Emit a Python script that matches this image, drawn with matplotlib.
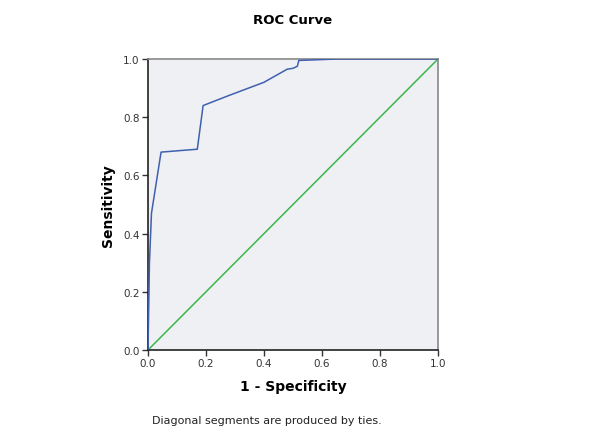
import numpy as np
import matplotlib.pyplot as plt

# ROC curve points
fpr = [0.0, 0.005, 0.012, 0.045, 0.17, 0.19, 0.28, 0.40, 0.48, 0.50, 0.515, 0.52, 0.65, 1.0]
tpr = [0.0, 0.30, 0.47, 0.68, 0.69, 0.84, 0.875, 0.92, 0.965, 0.968, 0.975, 0.995, 1.0, 1.0]
ref_line = [0.0, 1.0]
ticks = [0.0, 0.2, 0.4, 0.6, 0.8, 1.0]
tick_labels = ['0.0', '0.2', '0.4', '0.6', '0.8', '1.0']

fig = plt.figure(figsize=(6.14, 4.27), dpi=100)
ax = fig.add_axes([148 / 614, 76 / 427, 290 / 614, 291 / 427])
ax.set_facecolor('#eff0f3')

ax.plot(ref_line, ref_line, color='#3cb64b', lw=1.1, zorder=2)
ax.plot(fpr, tpr, color='#3f5fb0', lw=1.1, zorder=3)

ax.set_xlim(0, 1)
ax.set_ylim(0, 1)
ax.set_xticks(ticks)
ax.set_xticklabels(tick_labels)
ax.set_yticks(ticks)
ax.set_yticklabels(tick_labels)
ax.tick_params(direction='out', length=4, width=1, colors='#333333', labelsize=7.5, pad=2)
for s in ['left', 'bottom']:
    ax.spines[s].set_color('#222222')
    ax.spines[s].set_linewidth(1.2)
for s in ['top', 'right']:
    ax.spines[s].set_color('#888888')
    ax.spines[s].set_linewidth(1.2)

ax.set_xlabel('1 - Specificity', fontsize=10, fontweight='bold', labelpad=8)
ax.set_ylabel('Sensitivity', fontsize=10, fontweight='bold', labelpad=6)
fig.text(293 / 614, 1 - 20 / 427, 'ROC Curve', ha='center', va='center',
         fontsize=9.5, fontweight='bold')
fig.text(267 / 614, 1 - 421 / 427, 'Diagonal segments are produced by ties.',
         ha='center', va='center', fontsize=8, color='#222222')

fig.savefig('out.png', dpi=100)
